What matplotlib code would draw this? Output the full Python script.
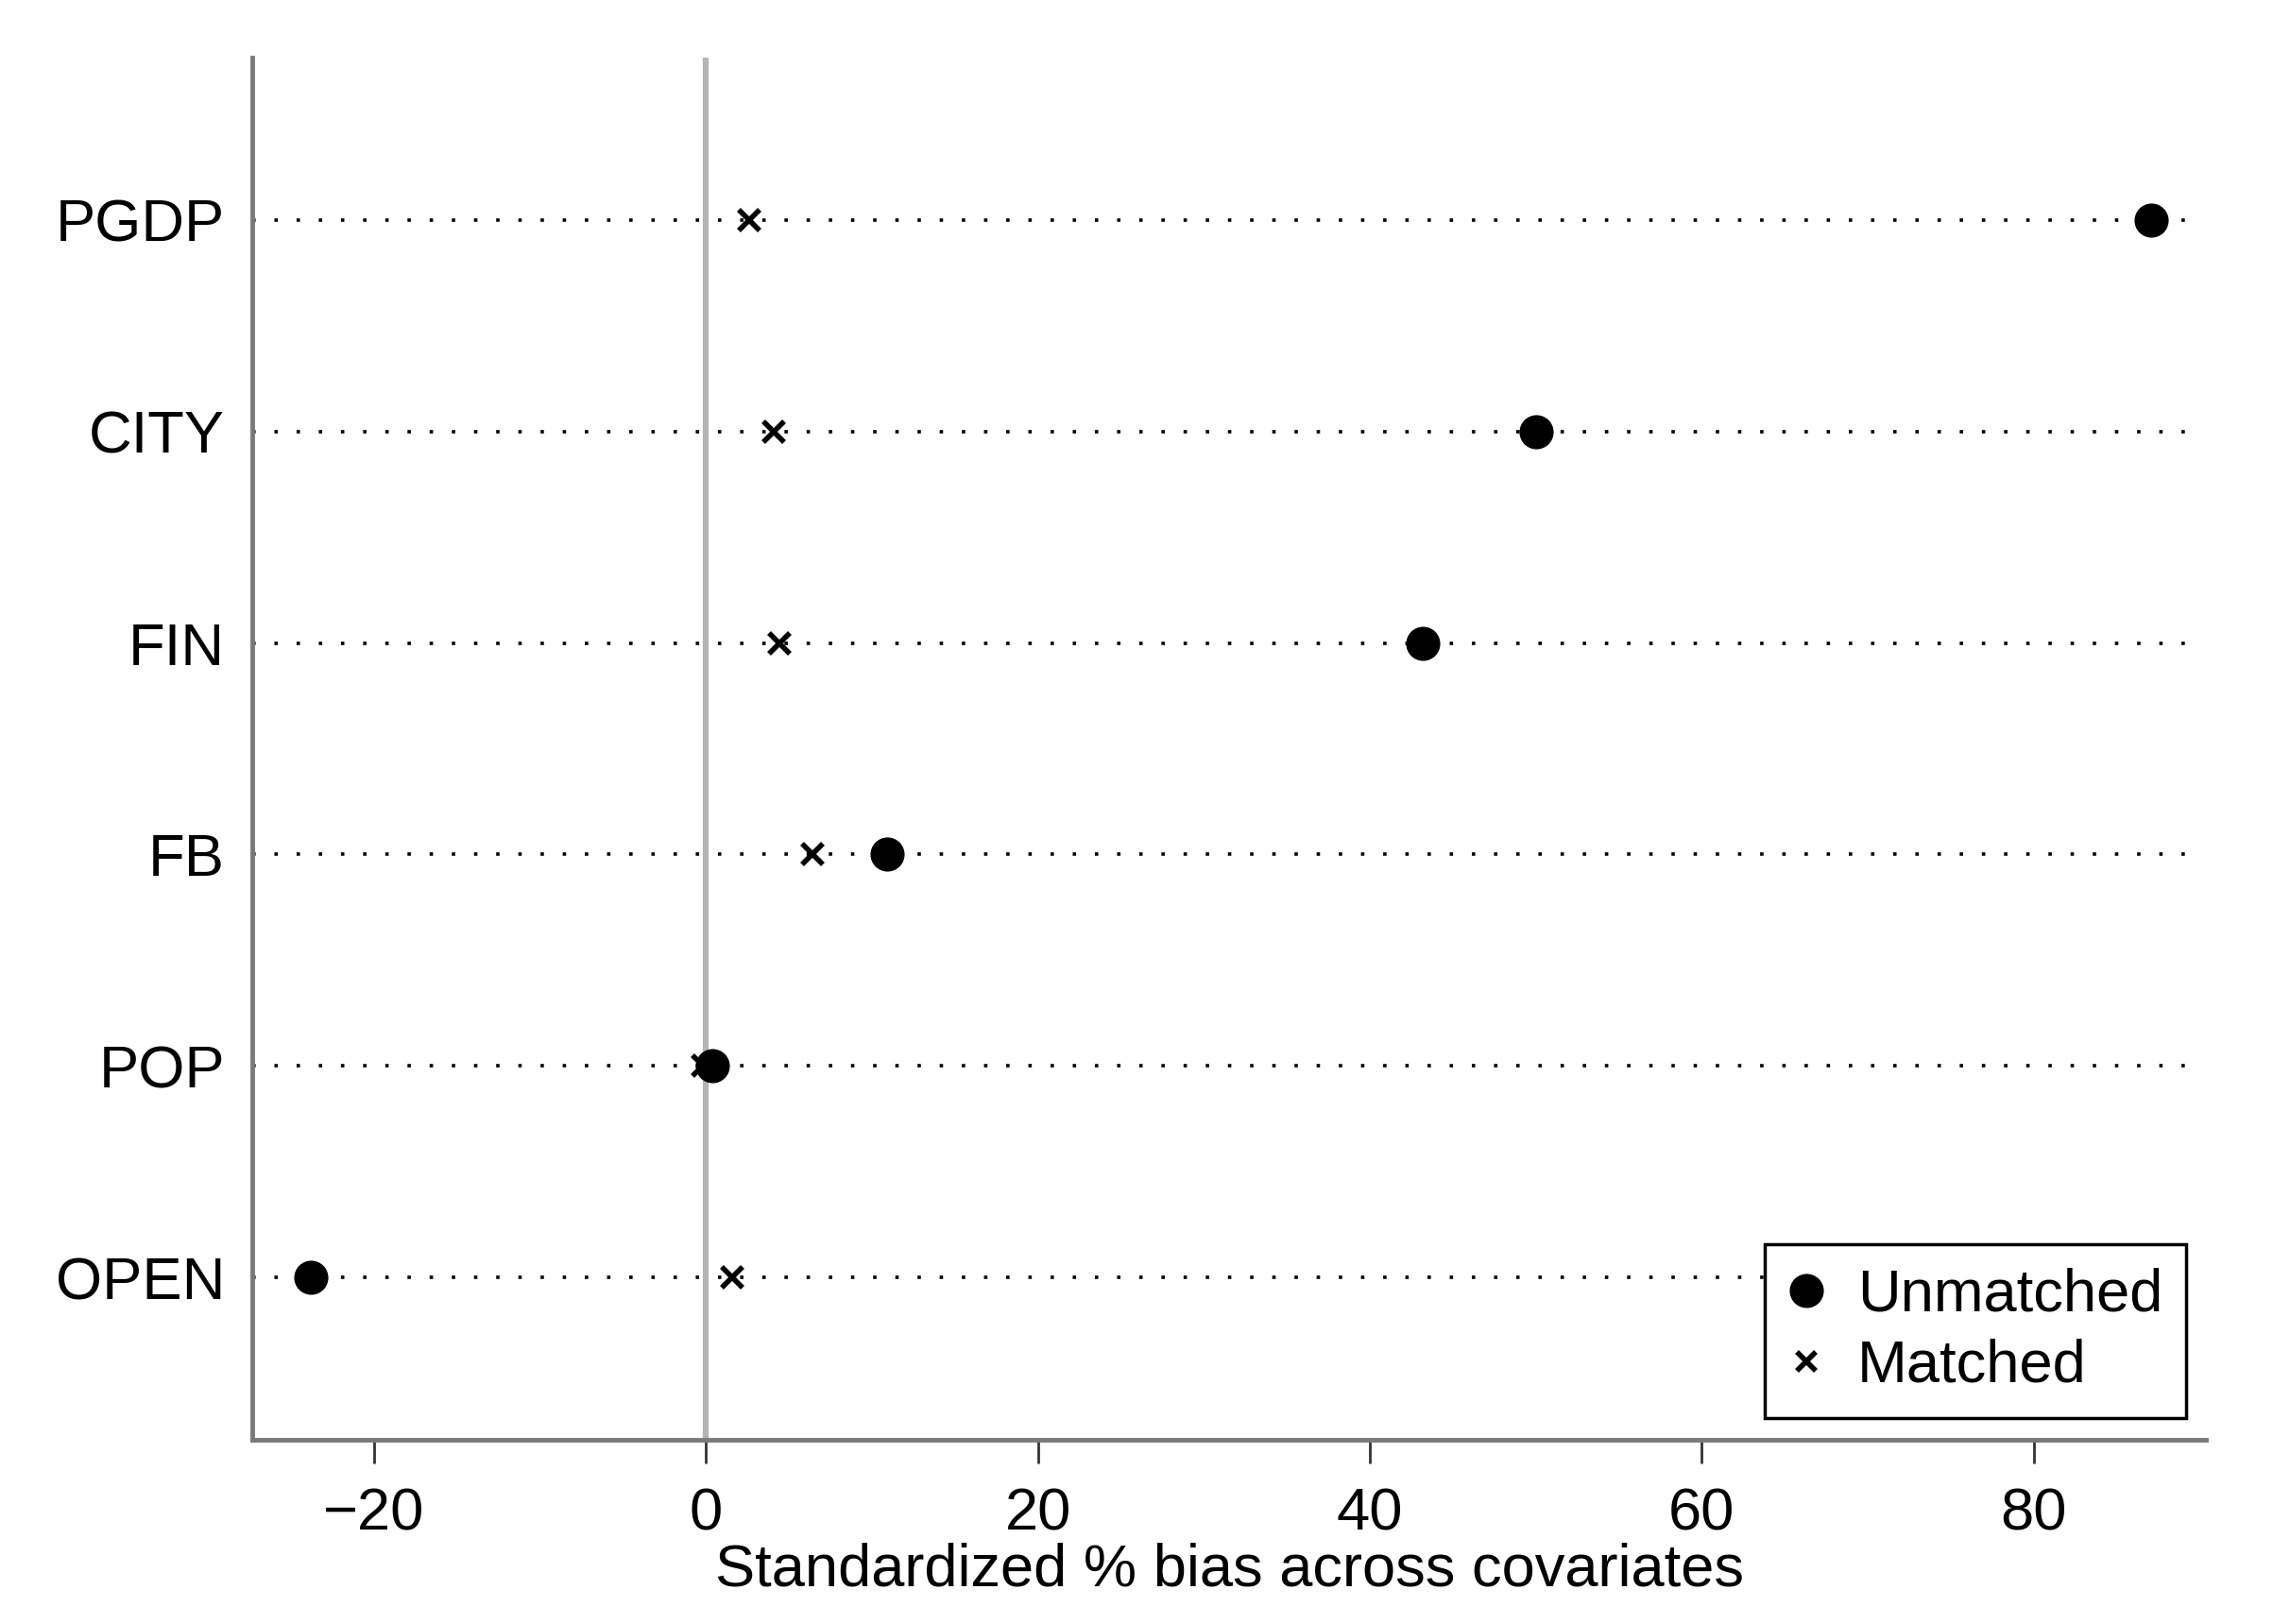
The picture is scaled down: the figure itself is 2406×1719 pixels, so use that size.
import numpy as np
import matplotlib
matplotlib.use("Agg")
import matplotlib.pyplot as plt
from matplotlib.lines import Line2D

plt.rcParams["font.family"] = ["Liberation Sans", "DejaVu Sans"]

# covariates, bottom to top
covariates = ["OPEN", "POP", "FB", "FIN", "CITY", "PGDP"]
unmatched = [-23.8, 0.4, 10.9, 43.2, 50.0, 87.1]
matched = [1.6, -0.2, 6.4, 4.4, 4.1, 2.6]
xticks = [-20, 0, 20, 40, 60, 80]

FS = 45.5
ypos = np.arange(1, len(covariates) + 1)

fig = plt.figure(figsize=(24.06, 17.19), dpi=100)
ax = fig.add_axes([0.111, 0.1135, 0.8595, 0.851])

for y in ypos:
    ax.axhline(y, xmin=0, xmax=0.992, color="black", linestyle=(0, (1, 5.5)),
               linewidth=2.6, zorder=1)

ax.axvline(0, color="#b4b4b4", linewidth=4.5, zorder=2)

ax.plot(unmatched, ypos, "o", color="black", markersize=25, linestyle="none", zorder=4)
ax.plot(matched, ypos, "x", color="black", markersize=16, markeredgewidth=4,
        linestyle="none", zorder=3)

ax.set_xlim(-27.33, 90.38)
ax.set_ylim(0.233, 6.767)

ax.set_yticks(ypos)
ax.set_yticklabels(covariates)
ax.set_xticks(xticks)

for side in ["top", "right"]:
    ax.spines[side].set_visible(False)
for side in ["left", "bottom"]:
    ax.spines[side].set_color("#7a7a7a")
    ax.spines[side].set_linewidth(3.5)

ax.tick_params(axis="y", length=0, pad=21, labelsize=FS)
ax.tick_params(axis="x", length=18, width=2, color="#333333", pad=18, labelsize=FS)

ax.set_xlabel("Standardized % bias across covariates", fontsize=FS, labelpad=0)

handles = [
    Line2D([], [], marker="o", color="black", markersize=25, linestyle="none"),
    Line2D([], [], marker="x", color="black", markersize=14, markeredgewidth=4,
           linestyle="none"),
]
leg = ax.legend(handles, ["Unmatched", "Matched"], loc="lower right",
                bbox_to_anchor=(0.990, 0.0157), borderaxespad=0, fontsize=FS,
                frameon=True, fancybox=False, edgecolor="black", framealpha=1,
                borderpad=0.4, handlelength=0.6, handletextpad=0.55,
                labelspacing=0.25)
leg.get_frame().set_linewidth(2.5)

fig.savefig("out.png", dpi=100)
